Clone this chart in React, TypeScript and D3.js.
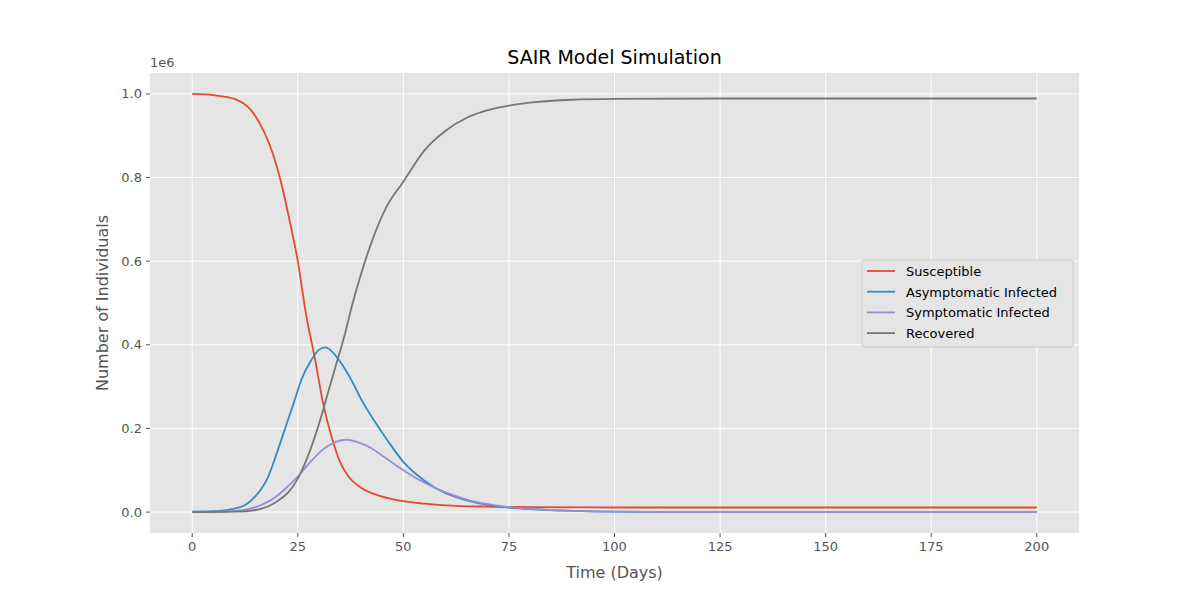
import { useEffect } from 'react';
import * as d3 from 'd3';

const days = [0, 5, 10, 14, 17, 19, 21, 23, 25, 27, 29, 31, 33, 35, 37, 40, 45, 50, 55, 60, 70, 80, 100, 150, 200];
const susceptible = [1.0, 0.997, 0.988, 0.96, 0.91, 0.86, 0.79, 0.70, 0.60, 0.47, 0.37, 0.26, 0.18, 0.12, 0.085, 0.058, 0.037, 0.026, 0.02, 0.016, 0.013, 0.012, 0.011, 0.011, 0.011];

const aDays = [0, 5, 10, 13, 15, 18, 20, 22, 24, 26, 28, 30, 31.5, 33, 35, 38, 40, 43, 46, 50, 55, 60, 65, 70, 75, 80, 90, 100, 120, 200];
const asymptomatic = [0.001, 0.002, 0.008, 0.02, 0.038, 0.085, 0.14, 0.2, 0.26, 0.32, 0.36, 0.388, 0.394, 0.385, 0.36, 0.31, 0.27, 0.22, 0.175, 0.12, 0.075, 0.045, 0.028, 0.017, 0.011, 0.007, 0.003, 0.001, 0, 0];

const sDays = [0, 10, 15, 18, 20, 23, 25, 28, 31, 34, 36.5, 39, 42, 45, 50, 55, 60, 65, 70, 75, 80, 90, 100, 120, 200];
const symptomatic = [0, 0.003, 0.012, 0.025, 0.038, 0.065, 0.085, 0.12, 0.15, 0.168, 0.173, 0.168, 0.155, 0.135, 0.1, 0.07, 0.047, 0.03, 0.019, 0.012, 0.008, 0.003, 0.001, 0, 0];

const rDays = [0, 10, 15, 20, 23, 25, 28, 30, 32, 34, 36, 38, 40, 43, 46, 50, 55, 60, 65, 70, 75, 80, 90, 100, 125, 200];
const recovered = [0, 0.001, 0.005, 0.025, 0.05, 0.08, 0.15, 0.21, 0.28, 0.35, 0.42, 0.5, 0.57, 0.66, 0.73, 0.79, 0.865, 0.912, 0.943, 0.961, 0.972, 0.979, 0.986, 0.988, 0.989, 0.989];

const series = [
  { name: 'Susceptible', x: days, y: susceptible, color: '#E24A33' },
  { name: 'Asymptomatic Infected', x: aDays, y: asymptomatic, color: '#348ABD' },
  { name: 'Symptomatic Infected', x: sDays, y: symptomatic, color: '#988ED5' },
  { name: 'Recovered', x: rDays, y: recovered, color: '#777777' },
];

const xTicks = [0, 25, 50, 75, 100, 125, 150, 175, 200];
const yTicks = [0, 0.2, 0.4, 0.6, 0.8, 1.0];

export default function App() {
  useEffect(() => { document.body.style.margin = '0'; }, []);
  const L = 150, R = 1079, T = 73, B = 533;
  const x = d3.scaleLinear().domain([-10, 210]).range([L, R]);
  const y = d3.scaleLinear().domain([-0.05, 1.05]).range([B, T]);
  const line = (xs: number[], ys: number[]) =>
    d3.line<number>().x((_, i) => x(xs[i])).y((d) => y(d)).curve(d3.curveMonotoneX)(ys) as string;
  const font = 'DejaVu Sans, sans-serif';

  return (
    <svg width={1200} height={600} style={{ display: 'block', fontFamily: font }}>
      <rect width={1200} height={600} fill="#fff" />
      <rect x={L} y={T} width={R - L} height={B - T} fill="#E5E5E5" />
      {xTicks.map((t) => (
        <g key={'x' + t}>
          <line x1={x(t)} x2={x(t)} y1={T} y2={B} stroke="#fff" strokeWidth={1} />
          <line x1={x(t)} x2={x(t)} y1={B} y2={B + 4} stroke="#555" />
          <text x={x(t)} y={B + 18} textAnchor="middle" fontSize={13} fill="#555">{t}</text>
        </g>
      ))}
      {yTicks.map((t) => (
        <g key={'y' + t}>
          <line x1={L} x2={R} y1={y(t)} y2={y(t)} stroke="#fff" strokeWidth={1} />
          <line x1={L - 4} x2={L} y1={y(t)} y2={y(t)} stroke="#555" />
          <text x={L - 8} y={y(t) + 4.5} textAnchor="end" fontSize={13} fill="#555">{t.toFixed(1)}</text>
        </g>
      ))}
      <text x={L} y={T - 6} fontSize={13} fill="#555">1e6</text>
      {series.map((s) => (
        <path key={s.name} d={line(s.x, s.y)} fill="none" stroke={s.color} strokeWidth={1.8} />
      ))}
      <text x={(L + R) / 2} y={64} textAnchor="middle" fontSize={19} fill="#000">SAIR Model Simulation</text>
      <text x={(L + R) / 2} y={578} textAnchor="middle" fontSize={16} fill="#555">Time (Days)</text>
      <text transform={`translate(108,${(T + B) / 2}) rotate(-90)`} textAnchor="middle" fontSize={16} fill="#555">Number of Individuals</text>
      <g transform="translate(862,260)">
        <rect width={211} height={87} rx={2} fill="#E5E5E5" stroke="#CCCCCC" strokeWidth={1} />
        {series.map((s, i) => (
          <g key={s.name} transform={`translate(0,${11 + i * 20.7})`}>
            <line x1={5} x2={33} y1={0} y2={0} stroke={s.color} strokeWidth={1.8} />
            <text x={44} y={5} fontSize={13} fill="#000">{s.name}</text>
          </g>
        ))}
      </g>
    </svg>
  );
}
